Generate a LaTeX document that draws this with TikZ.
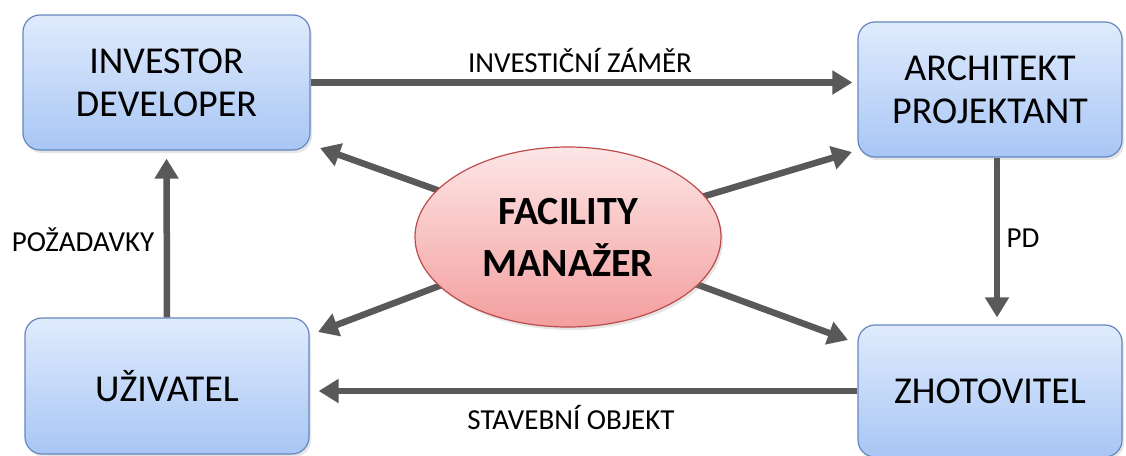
\documentclass[tikz,border=0pt]{standalone}
\usepackage{fontspec}
\setmainfont{Carlito}
\usetikzlibrary{shapes.geometric,arrows.meta,shadows,calc}
\definecolor{arrgray}{RGB}{89,89,89}
\definecolor{boxtop}{RGB}{224,235,252}
\definecolor{boxbot}{RGB}{168,198,245}
\definecolor{boxline}{RGB}{100,135,190}
\definecolor{elltop}{RGB}{253,230,230}
\definecolor{ellbot}{RGB}{243,158,158}
\definecolor{elline}{RGB}{190,75,75}
\tikzset{
  actor/.style={draw=boxline, line width=1.2pt, rounded corners=17pt,
    top color=boxtop, bottom color=boxbot, align=center, inner sep=0pt,
    font=\fontsize{38}{43}\selectfont,
    drop shadow={opacity=0.2, shadow xshift=2pt, shadow yshift=-3pt}},
  fmgr/.style={ellipse, draw=elline, line width=1.2pt, top color=elltop,
    bottom color=ellbot, inner sep=0pt, minimum width=306pt, minimum height=180pt,
    align=center, font=\bfseries\fontsize{40}{52}\selectfont,
    drop shadow={opacity=0.2, shadow xshift=2pt, shadow yshift=-3pt}},
  arr/.style={draw=arrgray, line width=6.5pt, -{Triangle[length=20pt,width=23pt]}},
  lbl/.style={font=\fontsize{29}{32}\selectfont, inner sep=0pt}
}
\begin{document}
\begin{tikzpicture}[x=1pt,y=-1pt]
\useasboundingbox (0,0) rectangle (1126,455);
\node[actor, minimum width=287pt, minimum height=135pt] (inv) at (166.5,82.5) {INVESTOR\\DEVELOPER};
\node[actor, minimum width=264pt, minimum height=135pt] (arch) at (990,89.5) {ARCHITEKT\\PROJEKTANT};
\node[actor, minimum width=284pt, minimum height=136pt] (uz) at (167,386) {UŽIVATEL};
\node[actor, minimum width=264pt, minimum height=132pt] (zh) at (990,391) {ZHOTOVITEL};

\coordinate (tinv) at (320,148);
\coordinate (tarch) at (852,152);
\coordinate (tuz) at (318,332);
\coordinate (tzh) at (848,340);
\coordinate (fmc) at (568,237);
\draw[arr] (fmc) -- (tinv);
\draw[arr] (fmc) -- (tarch);
\draw[arr] (fmc) -- (tuz);
\draw[arr] (fmc) -- (tzh);
\node[fmgr] (fm) at (fmc) {FACILITY\\MANAŽER};

\draw[arr, shorten >=5pt] (inv.east) -- (inv.east -| arch.west);
\draw[arr, shorten >=9pt] (zh.west) -- (zh.west -| uz.east);
\draw[arr, shorten >=7pt] ($(arch.south)+(7,0)$) -- ($(zh.north)+(7,0)$);
\draw[arr, shorten >=8pt] (uz.north) -- (inv.south);

\node[lbl] (l1) at (580,60) {INVESTIČNÍ ZÁMĚR};
\node[lbl] (l2) at (571,417) {STAVEBNÍ OBJEKT};
\node[lbl] (l3) at (1023,238) {PD};
\node[lbl] (l4) at (83,240) {POŽADAVKY};
\end{tikzpicture}
\end{document}
